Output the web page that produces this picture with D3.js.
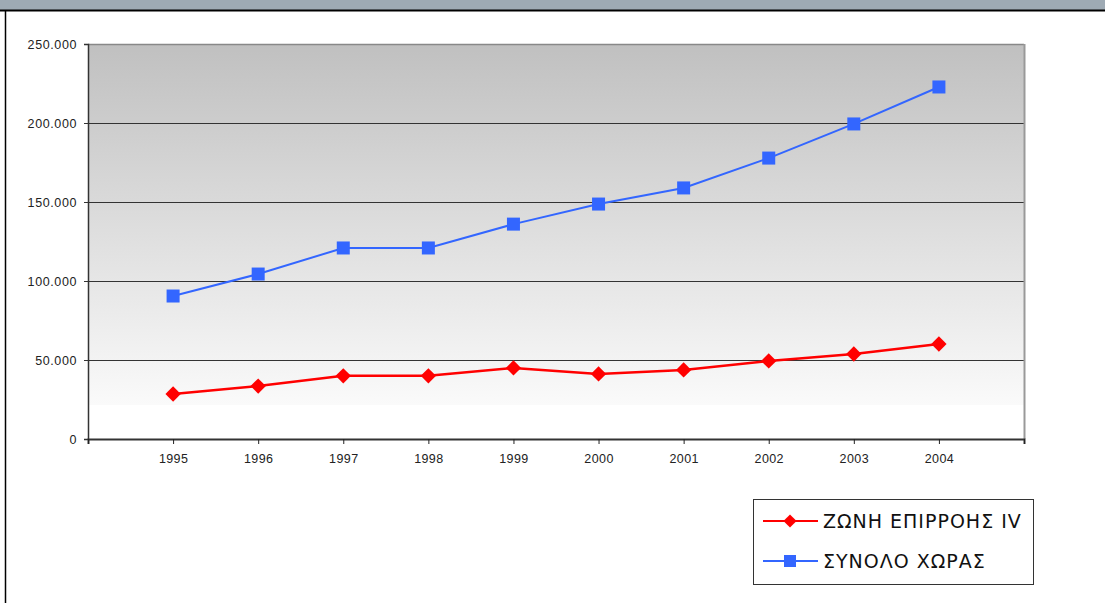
<!DOCTYPE html>
<html>
<head>
<meta charset="utf-8">
<script src="https://cdn.jsdelivr.net/npm/d3@7"></script>
<style>
  body { margin: 0; background: #fff; }
  svg { display: block; font-family: "DejaVu Sans", sans-serif; }
</style>
</head>
<body>
<div id="chart"></div>
<script>
// data
var years = [1995, 1996, 1997, 1998, 1999, 2000, 2001, 2002, 2003, 2004];
var zoneValues = [28500, 33500, 40000, 40000, 45000, 41200, 43700, 49400, 53800, 60100];
var totalValues = [90500, 104400, 120900, 120900, 136000, 148700, 158900, 177800, 199400, 222800];
var yTicks = [0, 50000, 100000, 150000, 200000, 250000];
var seriesNames = ["ΖΩΝΗ ΕΠΙΡΡΟΗΣ IV", "ΣΥΝΟΛΟ ΧΩΡΑΣ"];

var W = 1105, H = 603;
var svg = d3.select("#chart").append("svg").attr("width", W).attr("height", H);

// frame
svg.append("rect").attr("x", 0).attr("y", 0).attr("width", W).attr("height", 10).attr("fill", "#9eaab4");
svg.append("line").attr("x1", 0).attr("x2", W).attr("y1", 10.5).attr("y2", 10.5).attr("stroke", "#000").attr("stroke-width", 2);
svg.append("line").attr("x1", 5.5).attr("x2", 5.5).attr("y1", 10).attr("y2", H).attr("stroke", "#000").attr("stroke-width", 1.5);

var plotL = 88, plotR = 1024, plotT = 44, plotB = 439;

var x = d3.scaleLinear().domain([1994, 2005]).range([plotL, plotR]);
var y = d3.scaleLinear().domain([0, 250000]).range([plotB, plotT]);

// background gradient
var defs = svg.append("defs");
var grad = defs.append("linearGradient").attr("id", "bg").attr("x1", 0).attr("x2", 0).attr("y1", 0).attr("y2", 1);
grad.append("stop").attr("offset", "0%").attr("stop-color", "#c0c0c0");
grad.append("stop").attr("offset", "100%").attr("stop-color", "#fafafa");

svg.append("rect").attr("x", plotL).attr("y", plotT)
    .attr("width", plotR - plotL).attr("height", 405 - plotT)
    .attr("fill", "url(#bg)");

// gridlines
svg.append("g").selectAll("line")
    .data(yTicks.filter(function (d) { return d > 0 && d < 250000; }))
    .enter().append("line")
    .attr("x1", plotL).attr("x2", plotR)
    .attr("y1", function (d) { return Math.round(y(d)) + 0.5; })
    .attr("y2", function (d) { return Math.round(y(d)) + 0.5; })
    .attr("stroke", "#333").attr("stroke-width", 1);

// plot border top / right
svg.append("line").attr("x1", plotL).attr("x2", plotR).attr("y1", plotT + 0.5).attr("y2", plotT + 0.5).attr("stroke", "#888").attr("stroke-width", 1.5);
svg.append("line").attr("x1", plotR + 0.5).attr("x2", plotR + 0.5).attr("y1", plotT).attr("y2", plotB).attr("stroke", "#999").attr("stroke-width", 2);

var fmt = function (d) { return d === 0 ? "0" : d3.format(",")(d).replace(/,/g, "."); };

// y axis
var yAxis = svg.append("g").attr("transform", "translate(" + plotL + ",0)")
    .call(d3.axisLeft(y).tickValues(yTicks).tickSize(4).tickFormat(fmt));
yAxis.selectAll("text").attr("font-size", 12.5).attr("letter-spacing", 0.6).attr("fill", "#222").attr("dx", "-4");
yAxis.selectAll("line").attr("stroke", "#333");
yAxis.select(".domain").attr("stroke", "#333").attr("stroke-width", 1.5);

// x axis
var xAxis = svg.append("g").attr("transform", "translate(0," + plotB + ")")
    .call(d3.axisBottom(x).tickValues(d3.range(1994, 2006)).tickSize(5)
        .tickFormat(function (d) { return years.indexOf(d) >= 0 ? d : ""; }));
xAxis.selectAll("text").attr("font-size", 12.5).attr("letter-spacing", 0.4).attr("fill", "#222").attr("dy", "1.3em");
xAxis.selectAll("line").attr("stroke", "#222");
xAxis.select(".domain").attr("stroke", "#333").attr("stroke-width", 2);

// lines
var line = d3.line()
    .x(function (d, i) { return x(years[i]); })
    .y(function (d) { return y(d); });

svg.append("path").datum(totalValues).attr("d", line)
    .attr("fill", "none").attr("stroke", "#3366ff").attr("stroke-width", 2);
svg.append("path").datum(zoneValues).attr("d", line)
    .attr("fill", "none").attr("stroke", "#ff0000").attr("stroke-width", 2.5);

svg.append("g").selectAll("rect").data(totalValues).enter().append("rect")
    .attr("x", function (d, i) { return x(years[i]) - 6.5; })
    .attr("y", function (d) { return y(d) - 6.5; })
    .attr("width", 13).attr("height", 13)
    .attr("fill", "#3366ff");

var diamond = d3.symbol().type(d3.symbolDiamond2).size(150);
svg.append("g").selectAll("path").data(zoneValues).enter().append("path")
    .attr("d", diamond)
    .attr("transform", function (d, i) { return "translate(" + x(years[i]) + "," + y(d) + ")"; })
    .attr("fill", "#ff0000");

// legend
var lg = svg.append("g");
lg.append("rect").attr("x", 753.5).attr("y", 499.5).attr("width", 280).attr("height", 85)
    .attr("fill", "#fff").attr("stroke", "#333").attr("stroke-width", 1);

var legendItems = [
    { name: seriesNames[0], color: "#ff0000", marker: "diamond" },
    { name: seriesNames[1], color: "#3366ff", marker: "square" }
];
legendItems.forEach(function (item, i) {
    var ly = 521 + i * 40;
    lg.append("line").attr("x1", 763).attr("x2", 818).attr("y1", ly).attr("y2", ly)
        .attr("stroke", item.color).attr("stroke-width", 2);
    if (item.marker === "diamond") {
        lg.append("path").attr("d", d3.symbol().type(d3.symbolDiamond2).size(110))
            .attr("transform", "translate(790," + ly + ")").attr("fill", item.color);
    } else {
        lg.append("rect").attr("x", 784).attr("y", ly - 6).attr("width", 12).attr("height", 12)
            .attr("fill", item.color);
    }
    lg.append("text").attr("x", 823).attr("y", ly).attr("dy", "0.36em")
        .attr("font-size", 19).attr("letter-spacing", 1).attr("fill", "#111").text(item.name);
});
</script>
</body>
</html>
